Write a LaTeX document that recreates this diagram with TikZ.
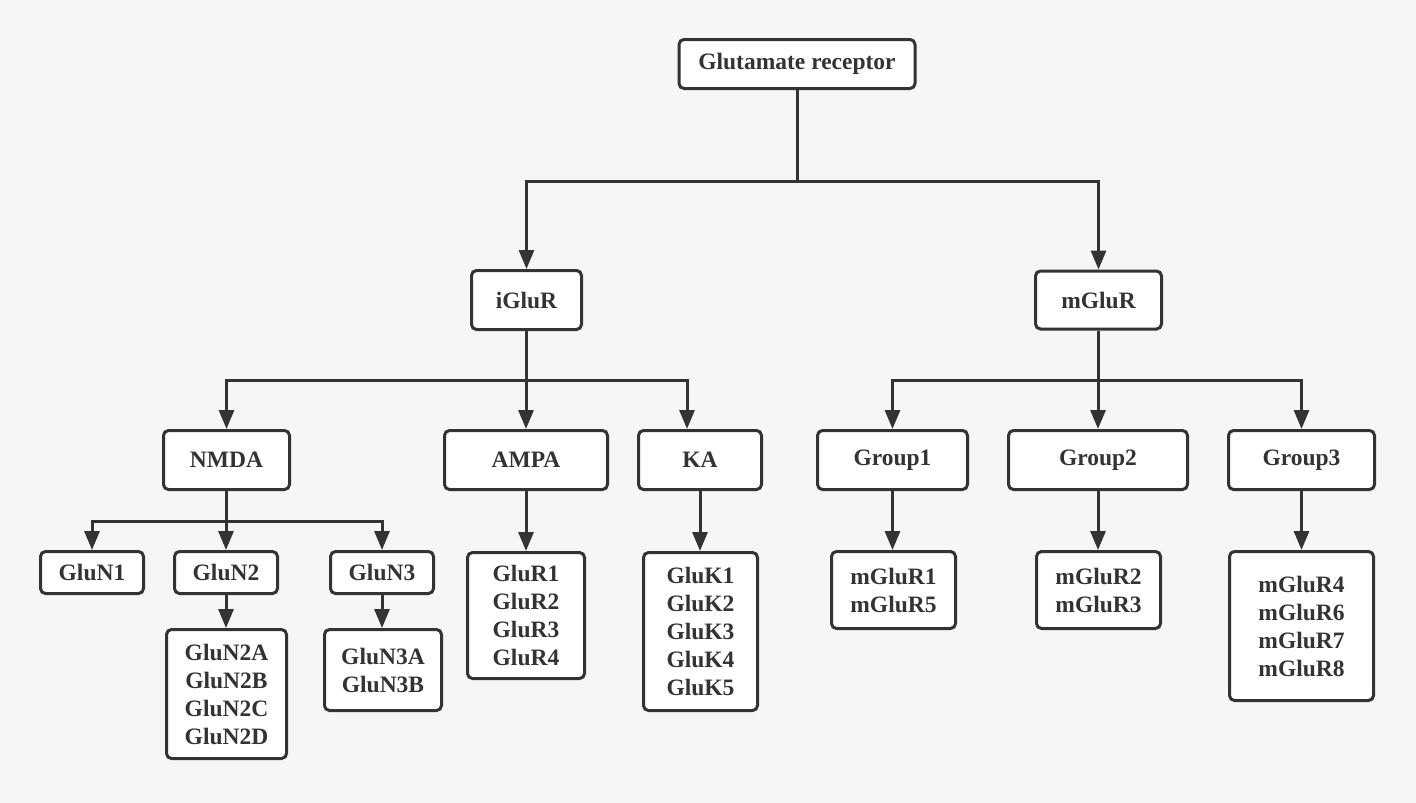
\documentclass[tikz,border=0pt]{standalone}
\usepackage{fontspec}
\setmainfont{Liberation Serif}
\usetikzlibrary{arrows.meta}
\definecolor{bgcol}{RGB}{246,246,246}
\definecolor{linecol}{RGB}{51,51,51}
\newcommand\boxfont{\fontsize{23.5}{28}\selectfont\bfseries}
\tikzset{
	box/.style={draw=linecol, fill=white, line width=3pt, rounded corners=5pt, align=center, inner sep=0pt, font=\boxfont, text=linecol},
	con/.style={draw=linecol, line width=3pt},
	arr/.style={con, -{Triangle[length=19pt,width=15pt]}}
}

\begin{document}
\begin{tikzpicture}[x=1pt, y=-1pt]
		%%%%% START %%%%%
		
		\fill[bgcol] (0, 0) rectangle (1416, 803);
		\useasboundingbox (0, 0) rectangle (1416, 803);
		
		% level 0 and 1
		\node[box, minimum width=236, minimum height=49] (glut) at (797, 64) {Glutamate receptor};
		\node[box, minimum width=110, minimum height=59] (iglur) at (526.5, 300) {iGluR};
		\node[box, minimum width=126, minimum height=58] (mglur) at (1098.5, 300) {mGluR};
		
		% level 2
		\node[box, minimum width=126, minimum height=59] (nmda) at (226.5, 460) {NMDA};
		\node[box, minimum width=163, minimum height=59] (ampa) at (526, 460) {AMPA};
		\node[box, minimum width=123, minimum height=59] (ka) at (700, 460) {KA};
		\node[box, minimum width=150, minimum height=59] (grpa) at (892.5, 460) {Group1};
		\node[box, minimum width=179, minimum height=59] (grpb) at (1098, 460) {Group2};
		\node[box, minimum width=146, minimum height=59] (grpc) at (1301.5, 460) {Group3};
		
		% level 3
		\node[box, minimum width=103, minimum height=42] (gnone) at (92, 572.5) {GluN1};
		\node[box, minimum width=103, minimum height=42] (gntwo) at (226, 572.5) {GluN2};
		\node[box, minimum width=103, minimum height=42] (gnthree) at (382, 572.5) {GluN3};
		\node[box, minimum width=117, minimum height=126] (glur) at (526, 615.5) {GluR1\\GluR2\\GluR3\\GluR4};
		\node[box, minimum width=114, minimum height=158] (gluk) at (700.5, 631.5) {GluK1\\GluK2\\GluK3\\GluK4\\GluK5};
		\node[box, minimum width=124, minimum height=77] (mgone) at (893.5, 590) {mGluR1\\mGluR5};
		\node[box, minimum width=124, minimum height=77] (mgtwo) at (1098.5, 590) {mGluR2\\mGluR3};
		\node[box, minimum width=144, minimum height=149] (mgthree) at (1301.5, 626) {mGluR4\\mGluR6\\mGluR7\\mGluR8};
		
		% level 4
		\node[box, minimum width=120, minimum height=129] (gntwosub) at (226.5, 694) {GluN2A\\GluN2B\\GluN2C\\GluN2D};
		\node[box, minimum width=117, minimum height=81] (gnthreesub) at (383, 670) {GluN3A\\GluN3B};
		
		% junctions
		\coordinate (jtop) at (797, 181);
		\coordinate (jion) at (526.5, 380);
		\coordinate (jmet) at (1098.5, 380);
		\coordinate (jnmda) at (226.5, 521);
		
		\draw[con] (glut.south) -- (jtop);
		\draw[arr] (jtop) -| (iglur.north);
		\draw[arr] (jtop) -| (mglur.north);
		
		\draw[con] (iglur.south) -- (jion);
		\draw[arr] (jion) -| (nmda.north);
		\draw[arr] (jion) -| (ampa.north);
		\draw[arr] (jion) -| ([xshift=-13pt]ka.north);
		
		\draw[con] (mglur.south) -- (jmet);
		\draw[arr] (jmet) -| (grpa.north);
		\draw[arr] (jmet) -| (grpb.north);
		\draw[arr] (jmet) -| (grpc.north);
		
		\draw[con] (nmda.south) -- (jnmda);
		\draw[arr] (jnmda) -| (gnone.north);
		\draw[arr] (jnmda) -| (gntwo.north);
		\draw[arr] (jnmda) -| (gnthree.north);
		
		\draw[arr] (gntwo.south) -- (gntwo.south |- gntwosub.north);
		\draw[arr] (gnthree.south) -- (gnthree.south |- gnthreesub.north);
		\draw[arr] (ampa.south) -- (ampa.south |- glur.north);
		\draw[arr] (ka.south) -- (ka.south |- gluk.north);
		\draw[arr] (grpa.south) -- (grpa.south |- mgone.north);
		\draw[arr] (grpb.south) -- (grpb.south |- mgtwo.north);
		\draw[arr] (grpc.south) -- (grpc.south |- mgthree.north);
		
		%%%%% END %%%%%
	\end{tikzpicture}
\end{document}
